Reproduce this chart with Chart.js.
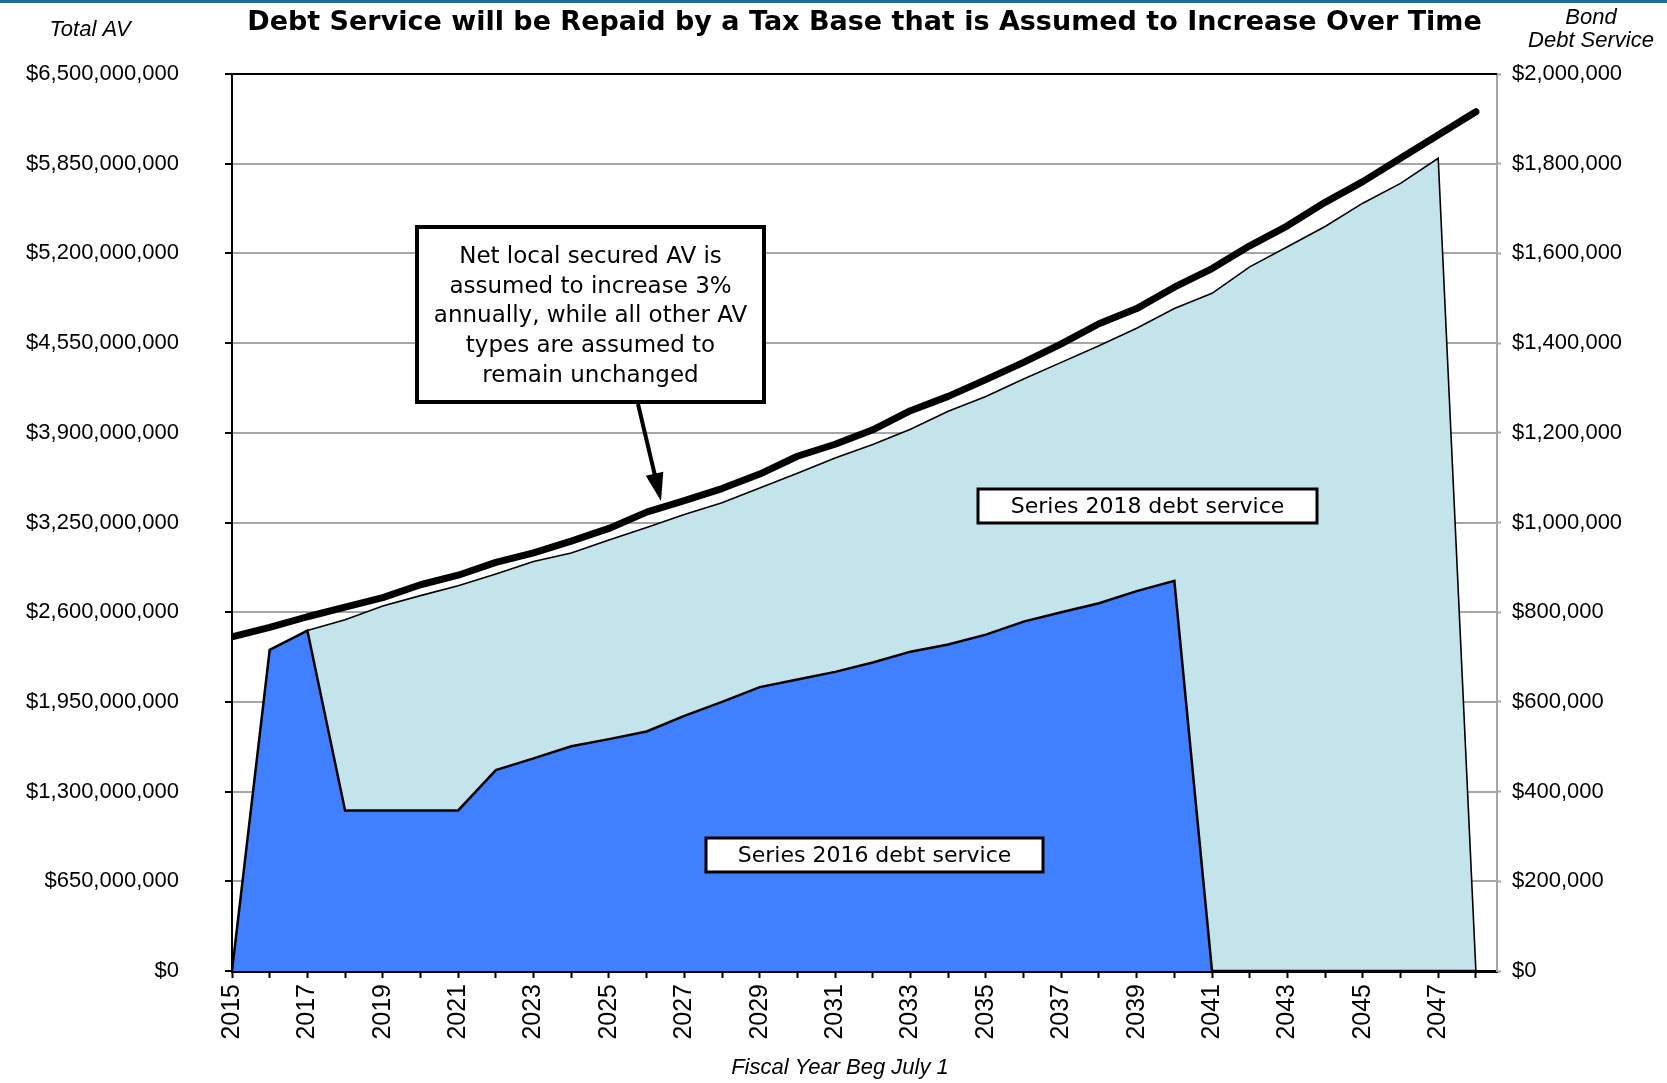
<!DOCTYPE html>
<html>
<head>
<meta charset="utf-8">
<title>Debt Service vs Tax Base</title>
<script src="https://cdn.jsdelivr.net/npm/chart.js@4"></script>
<style>
    html, body { margin: 0; padding: 0; background: #ffffff; }
    #debtChart { display: block; }
</style>
</head>
<body>
<canvas id="debtChart" width="1667" height="1083"></canvas>
<script>
// Fiscal years (x axis)
const years = [2015, 2016, 2017, 2018, 2019, 2020, 2021, 2022, 2023, 2024, 2025, 2026,
    2027, 2028, 2029, 2030, 2031, 2032, 2033, 2034, 2035, 2036, 2037, 2038,
    2039, 2040, 2041, 2042, 2043, 2044, 2045, 2046, 2047, 2048];

// Total assessed value (left axis)
const totalAV = [2421000000, 2490000000, 2567000000, 2637000000, 2706000000, 2799000000,
    2868000000, 2961000000, 3030000000, 3115000000, 3207000000, 3325000000,
    3408000000, 3496000000, 3601000000, 3730000000, 3817000000, 3922000000,
    4060000000, 4164000000, 4285000000, 4410000000, 4545000000, 4690000000,
    4800000000, 4955000000, 5090000000, 5255000000, 5400000000, 5570000000,
    5720000000, 5889000000, 6058000000, 6227000000];

// Bond debt service (right axis, stacked)
const series2016 = [0, 716000, 759000, 358000, 358000, 358000, 358000, 448000, 474000,
    501000, 517000, 534000, 569000, 600000, 633000, 650000, 667000, 688000,
    712000, 728000, 750000, 779000, 800000, 820000, 847000, 870000,
    0, 0, 0, 0, 0, 0, 0, 0];

const series2018 = [null, null, 0, 425000, 456000, 479000, 501000, 437000, 439000,
    431000, 444000, 455000, 449000, 444000, 444000, 460000, 477000, 486000,
    496000, 520000, 531000, 541000, 557000, 574000, 586000, 607000,
    1511000, 1570000, 1615000, 1660000, 1712000, 1756000, 1812000, 0];

// Axis ticks
const avTicks = [0, 650000000, 1300000000, 1950000000, 2600000000, 3250000000,
    3900000000, 4550000000, 5200000000, 5850000000, 6500000000];
const dsTicks = [0, 200000, 400000, 600000, 800000, 1000000, 1200000, 1400000,
    1600000, 1800000, 2000000];
const yearLabels = [2015, 2017, 2019, 2021, 2023, 2025, 2027, 2029, 2031, 2033,
    2035, 2037, 2039, 2041, 2043, 2045, 2047];

const titleText = 'Debt Service will be Repaid by a Tax Base that is Assumed to Increase Over Time';
const noteLines = ['Net local secured AV is', 'assumed to increase 3%',
    'annually, while all other AV', 'types are assumed to', 'remain unchanged'];

const toPoints = arr => years.map((y, i) => ({ x: y, y: arr[i] }));
const money = v => '$' + Number(v).toLocaleString('en-US');

// Title, axis captions, boxes and arrow
const decorations = {
    id: 'decorations',
    afterDraw(chart) {
        const c = chart.ctx;
        const area = chart.chartArea;
        c.save();

        // thin band at the very top
        c.fillStyle = '#1f6b9a';
        c.fillRect(0, 0, chart.width, 3);

        // plot top border
        c.strokeStyle = '#000';
        c.lineWidth = 2;
        c.beginPath();
        c.moveTo(area.left, area.top);
        c.lineTo(area.right, area.top);
        c.stroke();

        c.fillStyle = '#000';
        c.textAlign = 'center';
        c.textBaseline = 'middle';

        c.font = 'bold 27px "DejaVu Sans", sans-serif';
        c.fillText(titleText, (area.left + area.right) / 2, 23);

        c.font = 'italic 22px "Liberation Sans", Arial, sans-serif';
        c.fillText('Total AV', 90, 30);
        c.fillText('Bond', 1591, 18);
        c.fillText('Debt Service', 1591, 41);
        c.fillText('Fiscal Year Beg July 1', 840, 1068);

        // note box
        c.fillStyle = '#fff';
        c.fillRect(417, 227, 347, 175);
        c.lineWidth = 4;
        c.strokeRect(417, 227, 347, 175);
        c.fillStyle = '#000';
        c.font = '23px "DejaVu Sans", sans-serif';
        noteLines.forEach((t, i) => c.fillText(t, 590.5, 257 + i * 29.7));

        // arrow to the AV line
        const x0 = 638, y0 = 404, x1 = 661, y1 = 501;
        const ang = Math.atan2(y1 - y0, x1 - x0);
        c.lineWidth = 4;
        c.beginPath();
        c.moveTo(x0, y0);
        c.lineTo(x1 - 20 * Math.cos(ang), y1 - 20 * Math.sin(ang));
        c.stroke();
        c.beginPath();
        c.moveTo(x1, y1);
        c.lineTo(x1 - 28 * Math.cos(ang) + 9 * Math.sin(ang), y1 - 28 * Math.sin(ang) - 9 * Math.cos(ang));
        c.lineTo(x1 - 28 * Math.cos(ang) - 9 * Math.sin(ang), y1 - 28 * Math.sin(ang) + 9 * Math.cos(ang));
        c.closePath();
        c.fill();

        // series labels
        const label = (text, x, y, w, h) => {
            c.fillStyle = '#fff';
            c.fillRect(x, y, w, h);
            c.lineWidth = 3;
            c.strokeRect(x, y, w, h);
            c.fillStyle = '#000';
            c.font = '22px "DejaVu Sans", sans-serif';
            c.fillText(text, x + w / 2, y + h / 2 + 1);
        };
        label('Series 2018 debt service', 978, 489, 339, 34);
        label('Series 2016 debt service', 706, 838, 337, 34);

        c.restore();
    }
};

document.addEventListener('DOMContentLoaded', function() {
    const ctx = document.getElementById('debtChart').getContext('2d');
    const tickFont = { family: '"Liberation Sans", Arial, sans-serif', size: 22 };

    new Chart(ctx, {
        type: 'line',
        data: {
            datasets: [{
                label: 'Total AV',
                data: toPoints(totalAV),
                yAxisID: 'y',
                borderColor: '#000',
                borderWidth: 7,
                borderCapStyle: 'round',
                borderJoinStyle: 'round',
                pointRadius: 0,
                fill: false,
                order: 0
            }, {
                label: 'Series 2016 debt service',
                data: toPoints(series2016),
                yAxisID: 'y2',
                stack: 'debt',
                backgroundColor: '#4080ff',
                borderColor: '#000',
                borderWidth: 2.5,
                pointRadius: 0,
                fill: 'origin',
                order: 1
            }, {
                label: 'Series 2018 debt service',
                data: toPoints(series2018),
                yAxisID: 'y2',
                stack: 'debt',
                backgroundColor: '#c4e4ec',
                borderColor: '#000',
                borderWidth: 1.6,
                pointRadius: 0,
                fill: 'origin',
                order: 2
            }]
        },
        options: {
            responsive: false,
            devicePixelRatio: 1,
            animation: false,
            layout: { padding: { top: 74, left: 0, right: 0, bottom: 0 } },
            elements: { line: { tension: 0 } },
            plugins: {
                legend: { display: false },
                title: { display: false },
                tooltip: { enabled: false }
            },
            scales: {
                x: {
                    type: 'linear',
                    min: years[0],
                    max: 2048.56,
                    afterFit: s => { s.height = 112; },
                    ticks: {
                        stepSize: 1,
                        autoSkip: false,
                        includeBounds: false,
                        minRotation: 90,
                        maxRotation: 90,
                        padding: 6,
                        color: '#000',
                        font: { family: '"Liberation Sans", Arial, sans-serif', size: 25 },
                        callback: v => yearLabels.includes(v) ? String(v) : ''
                    },
                    grid: {
                        drawOnChartArea: false,
                        tickLength: 7,
                        tickColor: '#000',
                        tickWidth: 2
                    },
                    border: { color: '#000', width: 3 }
                },
                y: {
                    position: 'left',
                    min: 0,
                    max: avTicks[avTicks.length - 1],
                    afterFit: s => { s.width = 232; },
                    afterBuildTicks: s => { s.ticks = avTicks.map(v => ({ value: v })); },
                    ticks: {
                        padding: 46,
                        color: '#000',
                        font: tickFont,
                        callback: v => money(v)
                    },
                    grid: {
                        color: '#a6a6a6',
                        lineWidth: 2,
                        tickLength: 7,
                        tickColor: '#000',
                        tickWidth: 2
                    },
                    border: { color: '#000', width: 2 }
                },
                y2: {
                    position: 'right',
                    stacked: true,
                    min: 0,
                    max: dsTicks[dsTicks.length - 1],
                    afterFit: s => { s.width = 170; },
                    afterBuildTicks: s => { s.ticks = dsTicks.map(v => ({ value: v })); },
                    ticks: {
                        padding: 11,
                        color: '#000',
                        font: tickFont,
                        callback: v => money(v)
                    },
                    grid: {
                        drawOnChartArea: false,
                        tickLength: 4,
                        tickColor: '#a6a6a6',
                        tickWidth: 2
                    },
                    border: { color: '#a6a6a6', width: 2 }
                }
            }
        },
        plugins: [decorations]
    });
});
</script>
</body>
</html>
